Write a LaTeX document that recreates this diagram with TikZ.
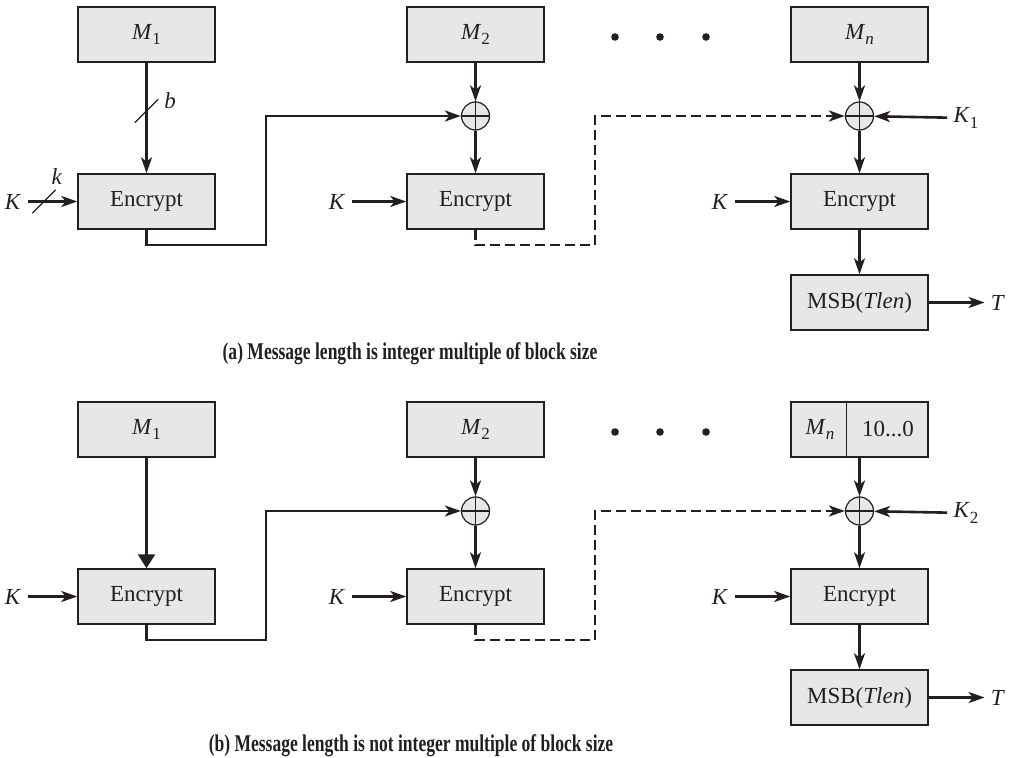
\documentclass[tikz,border=0pt]{standalone}
\usepackage{fontspec}
\setmainfont{Liberation Serif}
\usepackage{tikz}
\usetikzlibrary{shapes, arrows.meta}

\definecolor{ink}{HTML}{231F20}
\definecolor{boxgray}{HTML}{E6E7E8}

\newcommand{\msub}[2]{\textit{#1}\raisebox{-0.55ex}{\fontsize{8.5}{10}\selectfont #2}}

\begin{document}
\begin{tikzpicture}[x=0.5pt, y=-0.5pt,
    every node/.style={font=\fontsize{11.5}{13}\selectfont, text=ink},
    blk/.style={draw=ink, fill=boxgray, line width=0.75pt, minimum width=68.5pt, minimum height=27.5pt, inner sep=0pt},
    xorc/.style={circle, draw=ink, fill=boxgray, line width=0.6pt, minimum size=14pt, inner sep=0pt},
    lbl/.style={inner sep=3pt},
    wire/.style={draw=ink, line width=1.3pt, -{Stealth[length=8pt, width=5.5pt, inset=2.2pt]}},
    bigwire/.style={draw=ink, line width=1.3pt, -{Triangle[length=7pt, width=8.5pt]}},
    chain/.style={wire, dash pattern=on 5pt off 2.5pt},
    capt/.style={font=\fontsize{12}{14}\selectfont\bfseries}]
  \useasboundingbox (0,0) rectangle (1016,758);

  % (a) message length is integer multiple of block size
  \node[blk] (m1a) at (146.5,34.5) {\msub{M}{1}};
  \node[blk] (m2a) at (475.5,34.5) {\msub{M}{2}};
  \node[blk] (mna) at (859.5,34.5) {\msub{M}{\textit{n}}};
  \foreach \x in {615,660,706} {
    \fill[ink] (\x,37) circle[radius=1.9pt];
  }
  \node[xorc] (x2a) at (475.5,116) {};
  \node[xorc] (xna) at (859.5,116) {};
  \foreach \n in {x2a,xna} {
    \draw[ink, line width=0.6pt] (\n.north) -- (\n.south) (\n.west) -- (\n.east);
  }
  \node[blk] (e1a) at (146.5,201.5) {Encrypt};
  \node[blk] (e2a) at (475.5,201.5) {Encrypt};
  \node[blk] (ena) at (859.5,201.5) {Encrypt};
  \node[blk] (ta) at (859.5,302.5) {MSB(\textit{Tlen})};

  \node[lbl] (k1a) at (13,201.5) {\textit{K}};
  \node[lbl] (k2a) at (337,201.5) {\textit{K}};
  \node[lbl] (kna) at (720,201.5) {\textit{K}};
  \node[lbl] (kxa) at (966,118) {\msub{K}{1}};
  \node[lbl] (outa) at (998,302.5) {\textit{T}};

  \draw[wire] (m1a) -- (e1a);
  \draw[wire] (m2a) -- (x2a);
  \draw[wire] (x2a) -- (e2a);
  \draw[wire] (mna) -- (xna);
  \draw[wire] (xna) -- (ena);
  \draw[wire] (ena) -- (ta);
  \draw[wire] (ta) -- (outa);
  \draw[wire] (k1a) -- (e1a);
  \draw[wire] (k2a) -- (e2a);
  \draw[wire] (kna) -- (ena);
  \draw[wire] (kxa) -- (xna);
  \draw[wire] (e1a.south) |- (266,245) |- (x2a.west);
  \draw[chain] (e2a.south) |- (595,245) |- (xna.west);

  % bit widths
  \node[strike out, draw=ink, line width=0.7pt, minimum size=11pt, inner sep=0pt] (cutb) at (146.5,111) {};
  \node[lbl] (wb) at (170,101) {\textit{b}};
  \node[strike out, draw=ink, line width=0.7pt, minimum size=11pt, inner sep=0pt] (cutk) at (44,201.5) {};
  \node[lbl] (wk) at (57,177) {\textit{k}};

  \node[capt] (capa) at (410,354) {\scalebox{0.73}[1]{(a) Message length is integer multiple of block size}};

  % (b) message length is not integer multiple of block size
  \node[blk] (m1b) at (146.5,429.5) {\msub{M}{1}};
  \node[blk] (m2b) at (475.5,429.5) {\msub{M}{2}};
  \node[blk] (mnb) at (859.5,429.5) {};
  \draw[ink, line width=0.75pt] ([xshift=28pt]mnb.north west) -- ([xshift=28pt]mnb.south west);
  \node (mnt) at (820,429.5) {\msub{M}{\textit{n}}};
  \node (pad) at (888,429.5) {10...0};
  \foreach \x in {615,660,706} {
    \fill[ink] (\x,432) circle[radius=1.9pt];
  }
  \node[xorc] (x2b) at (475.5,511) {};
  \node[xorc] (xnb) at (859.5,511) {};
  \foreach \n in {x2b,xnb} {
    \draw[ink, line width=0.6pt] (\n.north) -- (\n.south) (\n.west) -- (\n.east);
  }
  \node[blk] (e1b) at (146.5,596.5) {Encrypt};
  \node[blk] (e2b) at (475.5,596.5) {Encrypt};
  \node[blk] (enb) at (859.5,596.5) {Encrypt};
  \node[blk] (tb) at (859.5,697.5) {MSB(\textit{Tlen})};

  \node[lbl] (k1b) at (13,596.5) {\textit{K}};
  \node[lbl] (k2b) at (337,596.5) {\textit{K}};
  \node[lbl] (knb) at (720,596.5) {\textit{K}};
  \node[lbl] (kxb) at (966,513) {\msub{K}{2}};
  \node[lbl] (outb) at (998,697.5) {\textit{T}};

  \draw[bigwire] (m1b) -- (e1b);
  \draw[wire] (m2b) -- (x2b);
  \draw[wire] (x2b) -- (e2b);
  \draw[wire] (mnb) -- (xnb);
  \draw[wire] (xnb) -- (enb);
  \draw[wire] (enb) -- (tb);
  \draw[wire] (tb) -- (outb);
  \draw[wire] (k1b) -- (e1b);
  \draw[wire] (k2b) -- (e2b);
  \draw[wire] (knb) -- (enb);
  \draw[wire] (kxb) -- (xnb);
  \draw[wire] (e1b.south) |- (266,640) |- (x2b.west);
  \draw[chain] (e2b.south) |- (595,640) |- (xnb.west);

  \node[capt] (capb) at (411,746) {\scalebox{0.73}[1]{(b) Message length is not integer multiple of block size}};
\end{tikzpicture}
\end{document}
